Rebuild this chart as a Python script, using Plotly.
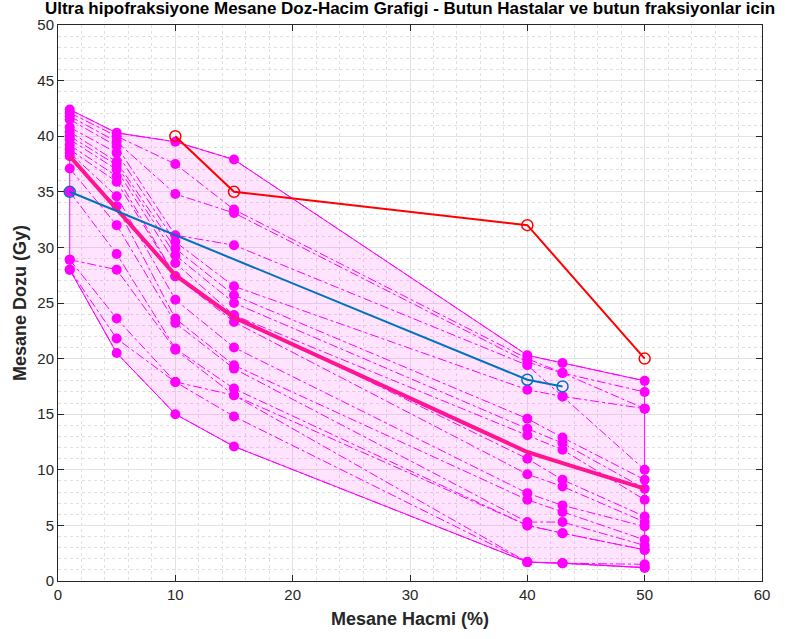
import plotly.graph_objects as go

# Bladder volume levels (%) at which dose is sampled
vol_pct = [1, 5, 10, 15, 40, 43, 50]

# Dose (Gy) per volume level, one value per patient/fraction curve
d_v1 = [42.4, 42.1, 41.8, 41.5, 40.8, 40.4, 40.0, 39.7, 39.2, 38.8, 38.5, 38.2, 37.1, 35.0, 28.9, 28.9, 28.0, 28.0]
d_v5 = [40.3, 40.0, 39.5, 39.1, 38.5, 37.7, 37.4, 37.0, 36.4, 35.9, 34.6, 33.7, 32.0, 29.4, 28.0, 23.6, 21.8, 20.5]
d_v10 = [39.5, 37.5, 34.8, 31.1, 30.5, 29.9, 29.3, 28.6, 27.4, 27.4, 25.3, 23.6, 23.2, 20.9, 20.8, 17.9, 17.9, 15.0]
d_v15 = [37.9, 33.4, 33.1, 30.2, 26.5, 25.7, 25.0, 23.9, 23.9, 23.3, 21.0, 19.4, 19.1, 17.3, 16.7, 16.7, 14.8, 12.1]
d_v40 = [20.3, 20.0, 19.7, 19.4, 17.2, 14.6, 13.7, 13.1, 11.0, 9.6, 7.9, 7.3, 5.3, 5.0, 5.0, 1.7, 1.7, 1.7]
d_v43 = [19.6, 18.7, 18.7, 16.6, 16.6, 12.9, 12.4, 11.8, 9.1, 8.5, 6.8, 6.2, 5.3, 4.3, 4.3, 1.6, 1.6, 1.6]
d_v50 = [18.0, 17.0, 15.5, 15.5, 10.0, 9.1, 8.3, 7.3, 5.8, 5.3, 4.9, 3.7, 3.2, 2.8, 2.8, 1.5, 1.2, 1.2]

# Mean dose curve
mean_dose = [38.2, 33.5, 27.5, 23.7, 11.6, 10.6, 8.3]

# Constraint curves
blue_vol = [1, 40, 43]
blue_dose = [35.0, 18.1, 17.5]
red_vol = [10, 15, 40, 50]
red_dose = [40.0, 35.0, 32.0, 20.0]

columns = [d_v1, d_v5, d_v10, d_v15, d_v40, d_v43, d_v50]
n_curves = len(d_v1)

MAGENTA = "#FF00FF"
FONT = "Liberation Sans, Arial"

fig = go.Figure()

# Min/max envelope
upper = [max(c) for c in columns]
lower = [min(c) for c in columns]
fig.add_trace(go.Scatter(
    x=vol_pct + vol_pct[::-1] + [vol_pct[0]],
    y=upper + lower[::-1] + [upper[0]],
    mode="lines", fill="toself",
    fillcolor="rgba(255,0,255,0.11)",
    line=dict(color=MAGENTA, width=1),
    hoverinfo="skip", showlegend=False,
))

# Individual curves
for i in range(n_curves):
    fig.add_trace(go.Scatter(
        x=vol_pct, y=[c[i] for c in columns],
        mode="lines+markers",
        line=dict(color=MAGENTA, width=1, dash="dashdot"),
        marker=dict(color=MAGENTA, size=10),
        showlegend=False,
    ))

# Mean curve
fig.add_trace(go.Scatter(
    x=vol_pct, y=mean_dose, mode="lines",
    line=dict(color="#FF1493", width=4),
    showlegend=False,
))

fig.add_trace(go.Scatter(
    x=blue_vol, y=blue_dose, mode="lines+markers",
    line=dict(color="#0072BD", width=2),
    marker=dict(symbol="circle-open", size=11, color="#0072BD", line=dict(width=1.5)),
    showlegend=False,
))

fig.add_trace(go.Scatter(
    x=red_vol, y=red_dose, mode="lines+markers",
    line=dict(color="#FF0000", width=2),
    marker=dict(symbol="circle-open", size=11, color="#FF0000", line=dict(width=1.5)),
    showlegend=False,
))

axis_common = dict(
    showline=True, linecolor="#262626", linewidth=1, mirror="allticks",
    ticks="inside", ticklen=6, tickcolor="#262626",
    showgrid=True, gridcolor="#E3E3E3", gridwidth=1,
    zeroline=False,
    tickfont=dict(family=FONT, size=15, color="#262626"),
)

fig.update_xaxes(
    range=[0, 60], dtick=10, **axis_common,
    minor=dict(dtick=2, showgrid=True, gridcolor="#E0E0E0", griddash="dot", ticks=""),
    title=dict(text="<b>Mesane Hacmi (%)</b>",
               font=dict(family=FONT, size=18, color="#262626"),
               standoff=10),
)
fig.update_yaxes(
    range=[0, 50], dtick=5, **axis_common,
    minor=dict(dtick=1, showgrid=True, gridcolor="#E0E0E0", griddash="dot", ticks=""),
    title=dict(text="<b>Mesane Dozu (Gy)</b>",
               font=dict(family=FONT, size=18, color="#262626"),
               standoff=6),
)

fig.update_layout(
    width=797, height=639,
    margin=dict(l=58, r=35, t=25, b=58),
    paper_bgcolor="white", plot_bgcolor="white",
    title=dict(
        text="<b>Ultra hipofraksiyone Mesane Doz-Hacim Grafigi - Butun Hastalar ve butun fraksiyonlar icin</b>",
        font=dict(family=FONT, size=17, color="#000000"),
        x=0.5, xanchor="center", xref="paper", y=1 - 8 / 639, yanchor="middle",
    ),
    showlegend=False,
)

fig.write_html("out.html")
